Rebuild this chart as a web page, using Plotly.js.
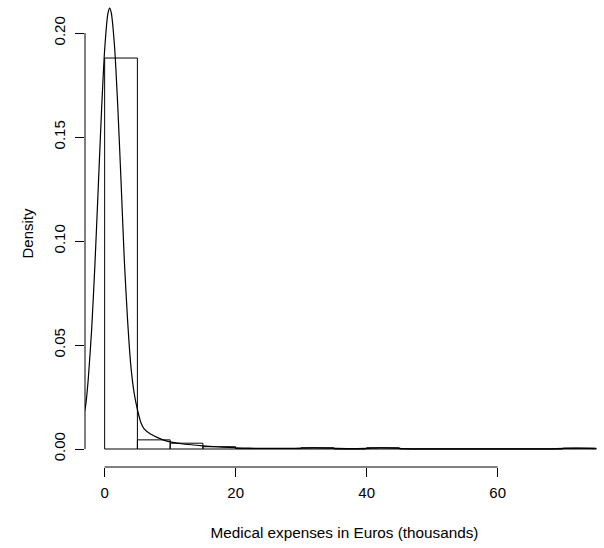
<!DOCTYPE html>
<html>
<head>
<meta charset="utf-8">
<script src="https://cdn.plot.ly/plotly-3.0.1.min.js"></script>
<style>
  html, body { margin: 0; padding: 0; background: #ffffff; overflow: hidden; }
  #chart { width: 604px; height: 548px; }
</style>
</head>
<body>
<div id="chart"></div>
<script>
// Histogram breaks (thousands of euros) and bin densities
const breaks = [0, 5, 10, 15, 20, 25, 30, 35, 40, 45, 50, 55, 60, 65, 70, 75];
const densities = [0.188, 0.0044, 0.0028, 0.0011, 0.0002, 0.0002, 0.0006, 0.0, 0.0006, 0.0, 0.0, 0.0, 0.0, 0.0, 0.0004];

// Kernel density curve
const curveX = [-3.2, -2.9, -2.5, -2, -1.5, -1, -0.5, 0, 0.5, 0.76, 1, 1.5, 2, 2.5, 3, 3.5, 4, 4.5, 5, 5.5, 6, 7, 8, 9, 10, 12, 14, 16, 18, 20, 22, 25, 28, 30, 32, 34, 37, 40, 42, 44, 47, 50, 55, 60, 65, 68, 70, 72, 74, 75.1];
const curveY = [0.016, 0.0209, 0.0337, 0.0567, 0.0876, 0.124, 0.161, 0.192, 0.2095, 0.212, 0.2099, 0.194, 0.165, 0.129, 0.091, 0.062, 0.040, 0.027, 0.019, 0.013, 0.0098, 0.0072, 0.0056, 0.0043, 0.0034, 0.0024, 0.0018, 0.0013, 0.0009, 0.0006, 0.0004, 0.0003, 0.0003, 0.0004, 0.0005, 0.0004, 0.0002, 0.0003, 0.0005, 0.0004, 0.0001, 0.00005, 0.00003, 0.00003, 0.00003, 0.0001, 0.0003, 0.0004, 0.0003, 0.0002];

// Axis ticks
const xTicks = [0, 20, 40, 60];
const xTickLabels = ["0", "20", "40", "60"];
const yTicks = [0, 0.05, 0.10, 0.15, 0.20];
const yTickLabels = ["0.00", "0.05", "0.10", "0.15", "0.20"];

const xTitle = "Medical expenses in Euros (thousands)";
const yTitle = "Density";

const centers = densities.map((d, i) => (breaks[i] + breaks[i + 1]) / 2);
const widths = densities.map((d, i) => breaks[i + 1] - breaks[i]);

const FONT = "Liberation Sans, Arial, Helvetica, sans-serif";

const traces = [
  {
    type: "bar",
    x: centers,
    y: densities,
    width: widths,
    marker: { color: "rgba(0,0,0,0)", line: { color: "#000000", width: 1 } },
    hoverinfo: "skip",
    showlegend: false
  },
  {
    type: "scatter",
    mode: "lines",
    x: curveX,
    y: curveY,
    line: { color: "#000000", width: 1.2, shape: "spline", smoothing: 0.6 },
    hoverinfo: "skip",
    showlegend: false
  }
];

const layout = {
  width: 604,
  height: 548,
  margin: { l: 85, r: 0, t: 0, b: 81 },
  paper_bgcolor: "#ffffff",
  plot_bgcolor: "#ffffff",
  font: { family: FONT, size: 15, color: "#000000" },
  showlegend: false,
  xaxis: {
    range: [-3, 76.24],
    tickmode: "array",
    tickvals: xTicks,
    ticktext: xTickLabels,
    ticks: "outside",
    ticklen: 9,
    tickwidth: 1,
    tickcolor: "#000000",
    ticklabelstandoff: 3,
    showline: false,
    showgrid: false,
    zeroline: false,
    tickfont: { family: FONT, size: 15, color: "#000000" },
    title: { text: xTitle, font: { family: FONT, size: 15.3, color: "#000000" }, standoff: 27 }
  },
  yaxis: {
    range: [-0.00865, 0.2159],
    tickmode: "array",
    tickvals: yTicks,
    ticktext: yTickLabels,
    tickangle: -90,
    ticks: "outside",
    ticklen: 9,
    tickwidth: 1,
    tickcolor: "#000000",
    ticklabelstandoff: 4,
    showline: false,
    showgrid: false,
    zeroline: false,
    tickfont: { family: FONT, size: 15, color: "#000000" },
    title: { text: yTitle, font: { family: FONT, size: 15, color: "#000000" }, standoff: 13 }
  },
  shapes: [
    {
      type: "line", xref: "x", yref: "paper",
      x0: xTicks[0], x1: xTicks[xTicks.length - 1], y0: 0, y1: 0,
      line: { color: "#000000", width: 1 }
    },
    {
      type: "line", xref: "paper", yref: "y",
      x0: 0, x1: 0, y0: yTicks[0], y1: yTicks[yTicks.length - 1],
      line: { color: "#000000", width: 1 }
    }
  ]
};

Plotly.newPlot("chart", traces, layout, { displayModeBar: false, staticPlot: true });
</script>
</body>
</html>
